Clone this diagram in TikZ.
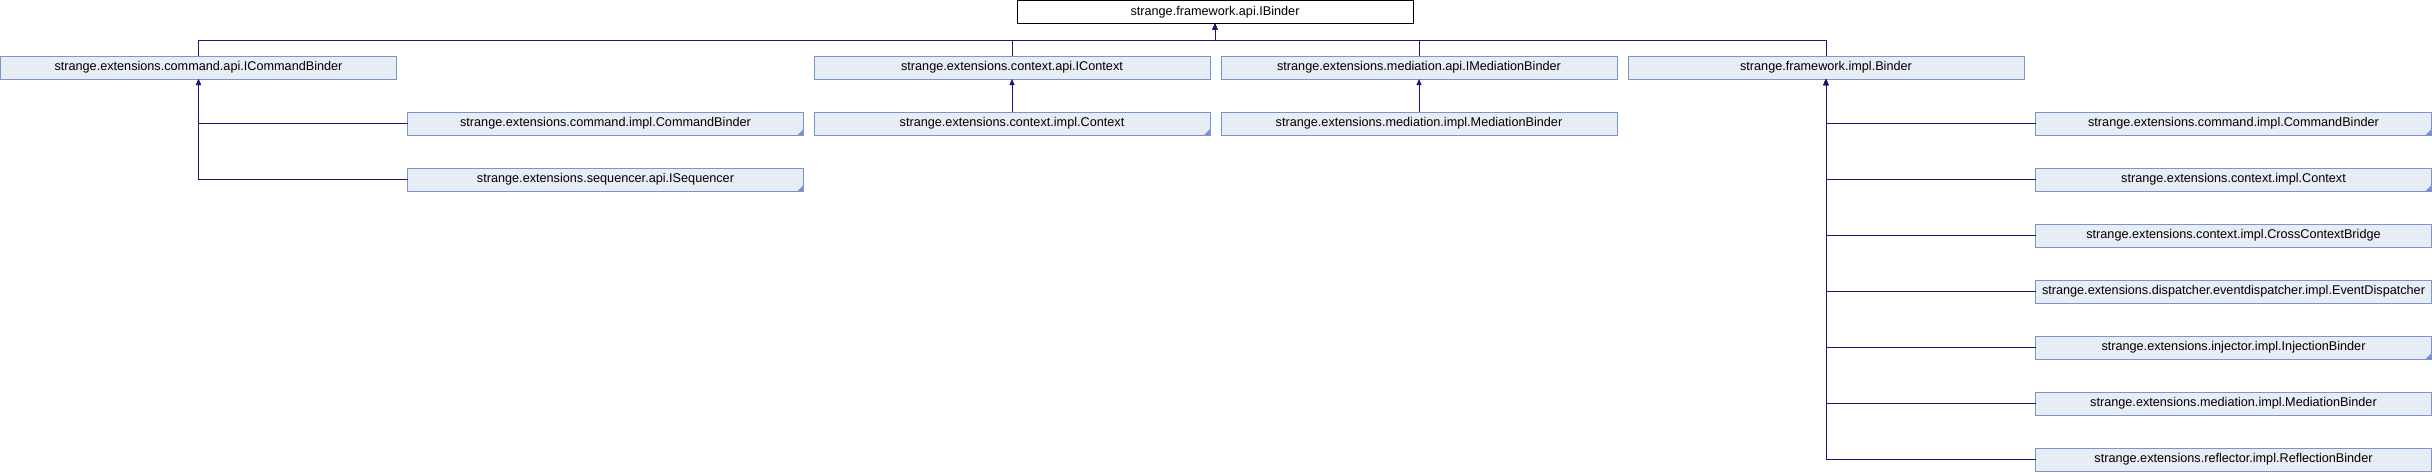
\documentclass[tikz,border=0pt]{standalone}
\usepackage{fontspec}
\setmainfont{Liberation Sans}
\usetikzlibrary{positioning, arrows.meta}
\definecolor{edgeblue}{HTML}{191970}
\definecolor{boxfill}{HTML}{E8ECF5}
\definecolor{boxline}{HTML}{7A94CC}
\tikzset{x=0.75pt, y=-0.75pt, % one unit is one pixel, y runs downwards
cls/.style={draw=boxline, fill=boxfill, line width=0.75pt, minimum width=297pt,
  minimum height=17.25pt, inner sep=0pt, outer sep=0pt, font=\fontsize{9.5pt}{11pt}\selectfont},
rootcls/.style={cls, draw=black, fill=white}, % the class we start from
inh/.style={edgeblue, line width=0.75pt, -{Triangle[length=4.5pt,width=3.75pt]}},
node distance=24.75pt, % gap between the boxes of the right column
}

\begin{document}
\begin{tikzpicture}
  \useasboundingbox (0,0) rectangle (2432,472);

  \node[rootcls] (ibinder) at (1215,12) {strange.framework.api.IBinder};
  \coordinate (bus) at (1215,40);

  \node[cls] (icmd) at (198.5,67.5) {strange.extensions.command.api.ICommandBinder};
  \node[cls] (ictx) at (1012,67.5) {strange.extensions.context.api.IContext};
  \node[cls] (imed) at (1419,67.5) {strange.extensions.mediation.api.IMediationBinder};
  \node[cls] (binder) at (1826,67.5) {strange.framework.impl.Binder};

  \node[cls] (cmdimpl) at (605.5,123.5) {strange.extensions.command.impl.CommandBinder};
  \node[cls, below=of cmdimpl] (iseq) {strange.extensions.sequencer.api.ISequencer};
  \node[cls] (ctximpl) at (1012,123.5) {strange.extensions.context.impl.Context};
  \node[cls] (medimpl) at (1419,123.5) {strange.extensions.mediation.impl.MediationBinder};

  \node[cls] (b1) at (2233.5,123.5) {strange.extensions.command.impl.CommandBinder};
  \node[cls, below=of b1] (b2) {strange.extensions.context.impl.Context};
  \node[cls, below=of b2] (b3) {strange.extensions.context.impl.CrossContextBridge};
  \node[cls, below=of b3] (b4) {strange.extensions.dispatcher.eventdispatcher.impl.EventDispatcher};
  \node[cls, below=of b4] (b5) {strange.extensions.injector.impl.InjectionBinder};
  \node[cls, below=of b5] (b6) {strange.extensions.mediation.impl.MediationBinder};
  \node[cls, below=of b6] (b7) {strange.extensions.reflector.impl.ReflectionBinder};

  % boxes that have more children
  \foreach \n in {cmdimpl, iseq, ctximpl, b1, b2, b5}
    \fill[boxline] (\n.south east) -- ++(0,-6) -- ++(-6,6) -- cycle;

  \foreach \n in {icmd, ictx, imed, binder}
    \draw[inh] (\n.north) |- (bus) -- (ibinder.south);
  \draw[inh] (cmdimpl.west) -| (icmd.south);
  \draw[inh] (iseq.west) -| (icmd.south);
  \draw[inh] (ctximpl) -- (ictx);
  \draw[inh] (medimpl) -- (imed);
  \foreach \i in {1,...,7}
    \draw[inh] (b\i.west) -| (binder.south);

\end{tikzpicture}
\end{document}
